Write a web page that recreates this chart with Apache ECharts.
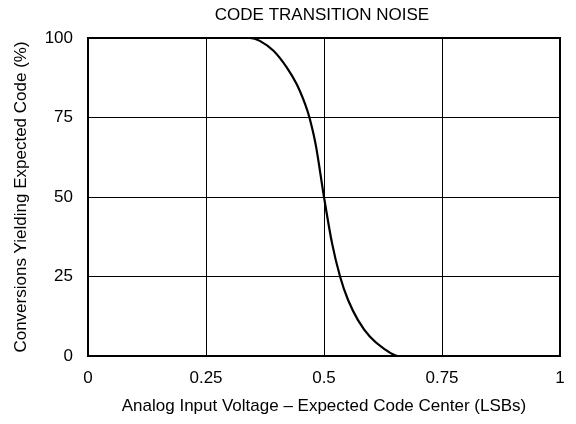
<!DOCTYPE html>
<html>
<head>
<meta charset="utf-8">
<script src="https://cdn.jsdelivr.net/npm/echarts@6/dist/echarts.min.js"></script>
<style>html,body{margin:0;padding:0;background:#fff}#c{width:576px;height:424px}</style>
</head>
<body>
<div id="c"></div>
<script>
var xValues = [0, 0.343, 0.364, 0.393, 0.421, 0.442, 0.460, 0.470, 0.483, 0.500, 0.517, 0.534, 0.551, 0.572, 0.597, 0.626, 0.657, 1];
var yValues = [100, 100, 99.1, 96.0, 90.8, 85.5, 79.2, 74.5, 66.0, 50, 35.5, 25.0, 17.6, 11.3, 6.1, 2.4, 0, 0];
var xTicks = [0, 0.25, 0.5, 0.75, 1];
var yTicks = [0, 25, 50, 75, 100];
var titleText = 'CODE TRANSITION NOISE';
var xName = 'Analog Input Voltage \u2013 Expected Code Center (LSBs)';
var yName = 'Conversions Yielding Expected Code (%)';

var font = 'Liberation Sans, Arial, sans-serif';
var chart = echarts.init(document.getElementById('c'), null, {renderer: 'canvas'});
var pts = xValues.map(function (x, i) { return [x, yValues[i]]; });
chart.setOption({
  animation: false,
  backgroundColor: '#fff',
  title: {
    text: titleText, left: 322, top: 7, padding: 0, textAlign: 'center',
    textStyle: {fontFamily: font, fontSize: 17, fontWeight: 'normal', color: '#000'}
  },
  grid: {left: 88, right: 16, top: 38, bottom: 68, show: true, borderColor: '#000', borderWidth: 2, backgroundColor: 'transparent'},
  xAxis: {
    type: 'value', min: xTicks[0], max: xTicks[xTicks.length - 1], interval: 0.25,
    name: xName, nameLocation: 'middle', nameGap: 42,
    nameTextStyle: {fontFamily: font, fontSize: 17, color: '#000'},
    axisLine: {show: true, lineStyle: {color: '#000', width: 2}},
    axisTick: {show: false},
    axisLabel: {fontFamily: font, fontSize: 17, color: '#000', margin: 14},
    splitLine: {show: true, lineStyle: {color: '#000', width: 1}}
  },
  yAxis: {
    type: 'value', min: yTicks[0], max: yTicks[yTicks.length - 1], interval: 25,
    name: yName, nameLocation: 'middle', nameGap: 58,
    nameTextStyle: {fontFamily: font, fontSize: 17, color: '#000'},
    axisLine: {show: true, lineStyle: {color: '#000', width: 2}},
    axisTick: {show: false},
    axisLabel: {fontFamily: font, fontSize: 17, color: '#000', margin: 15},
    splitLine: {show: true, lineStyle: {color: '#000', width: 1}}
  },
  series: [{
    type: 'line', data: pts, smooth: 0.3, symbol: 'none',
    lineStyle: {color: '#000', width: 2.2}, clip: true
  }]
});
</script>
</body>
</html>
